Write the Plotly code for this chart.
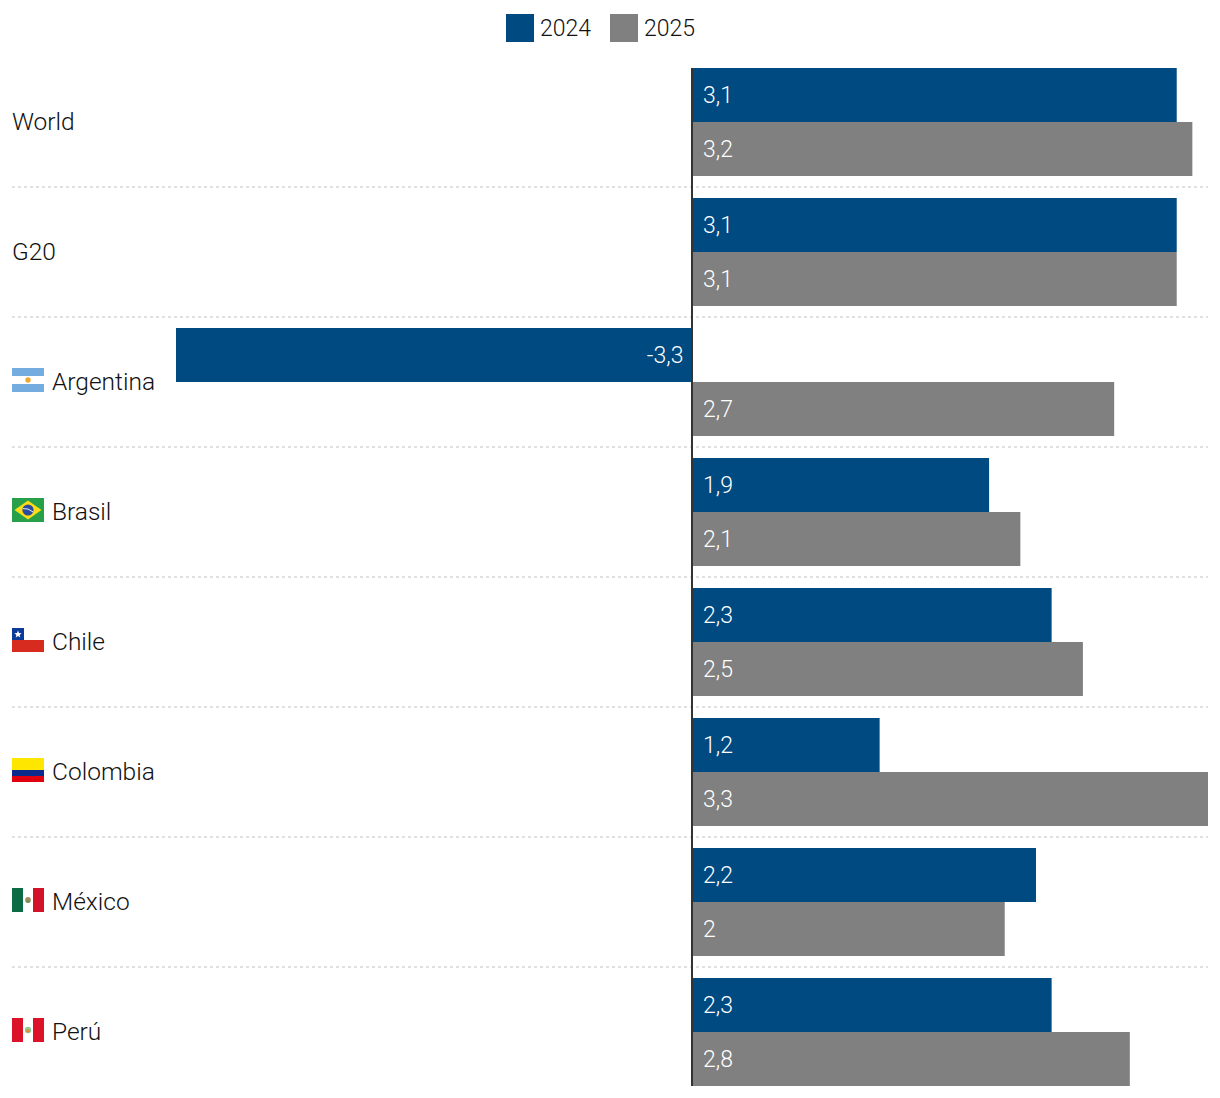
import base64
import plotly.graph_objects as go

categories = ["World", "G20", "Argentina", "Brasil", "Chile", "Colombia", "México", "Perú"]
values_2024 = [3.1, 3.1, -3.3, 1.9, 2.3, 1.2, 2.2, 2.3]
values_2025 = [3.2, 3.1, 2.7, 2.1, 2.5, 3.3, 2.0, 2.8]
series_names = ["2024", "2025"]

BLUE = "#004A82"
GREY = "#808080"
FONT = "Roboto"
BODY = 8  # page margin around the figure
W, H = 1204, 1082
ML, MR, MT, MB = 4, 4, 49, 0
PW, PH = W - ML - MR, H - MT - MB
PX_PER_UNIT = 516 / 3.3
ROW_PX = 130


def px(page_x):
    return (page_x - BODY - ML) / PW


def py(page_y):
    return 1 - (page_y - BODY - MT) / PH


def svg_uri(body):
    svg = f'<svg xmlns="http://www.w3.org/2000/svg" width="32" height="24" viewBox="0 0 32 24">{body}</svg>'
    return "data:image/svg+xml;base64," + base64.b64encode(svg.encode()).decode()


flags = {
    "Argentina": '<rect width="32" height="24" fill="#fff"/><rect width="32" height="8" fill="#74ACDF"/>'
                 '<rect y="16" width="32" height="8" fill="#74ACDF"/><circle cx="16" cy="12" r="2.7" fill="#F0A830"/>',
    "Brasil": '<rect width="32" height="24" fill="#27A049"/><path d="M16 2.5L29.5 12L16 21.5L2.5 12Z" fill="#FBDC17"/>'
              '<circle cx="16" cy="12" r="5.6" fill="#2B4C9E"/><path d="M10.8 10.6Q16 9.8 21.2 14" stroke="#E6EBF5" stroke-width="1" fill="none"/>',
    "Chile": '<rect width="32" height="12" fill="#fff"/><rect y="12" width="32" height="12" fill="#D72B1F"/>'
             '<rect width="12" height="12" fill="#0A3A9A"/><path d="M6 2.6L7 5.1L9.6 5.2L7.6 6.9L8.3 9.4L6 8L3.7 9.4L4.4 6.9L2.4 5.2L5 5.1Z" fill="#fff"/>',
    "Colombia": '<rect width="32" height="12" fill="#FFE600"/><rect y="12" width="32" height="6" fill="#0A2A8C"/>'
                '<rect y="18" width="32" height="6" fill="#E1000F"/>',
    "México": '<rect width="32" height="24" fill="#fff"/><rect width="11" height="24" fill="#0B6B45"/>'
              '<rect x="21" width="11" height="24" fill="#D3122A"/><circle cx="16" cy="12" r="2.9" fill="#A98B62"/>'
              '<circle cx="16" cy="13.4" r="1.5" fill="#5E9A62"/>',
    "Perú": '<rect width="32" height="24" fill="#fff"/><rect width="11" height="24" fill="#DC1228"/>'
            '<rect x="21" width="11" height="24" fill="#DC1228"/><circle cx="16" cy="12" r="3.2" fill="#8CCB9A"/>'
            '<circle cx="16" cy="13" r="1.8" fill="#E08A2C"/>',
}


def fmt(v):
    return f"{v:g}".replace(".", ",")


def bar_text(v):
    # non-breaking space pushes the label off the bar's base
    return f"{fmt(v)}\u00a0" if v < 0 else f"\u00a0\u200a{fmt(v)}"


fig = go.Figure()
for name, vals, color in zip(series_names, [values_2024, values_2025], [BLUE, GREY]):
    fig.add_trace(go.Bar(
        y=categories, x=vals, name=name, orientation="h",
        marker=dict(color=color, line=dict(width=0)),
        text=[bar_text(v) for v in vals],
        textposition="inside", insidetextanchor="start", constraintext="none",
        textangle=0, cliponaxis=False,
        insidetextfont=dict(family=FONT, size=23, color="#FFFFFF", weight=300),
    ))

shapes = []
# dotted separators between categories
for i in range(len(categories) - 1):
    shapes.append(dict(type="line", xref="paper", yref="y", x0=0, x1=1, y0=i + 0.5, y1=i + 0.5,
                       line=dict(color="#D6D6D6", width=1.5, dash="dot"), layer="below"))
# zero axis line, spanning first bar top to last bar bottom
shapes.append(dict(type="line", xref="x", yref="paper", x0=0, x1=0,
                   y0=py(1086), y1=py(68),
                   line=dict(color="#333333", width=2), layer="above"))

annotations = []
images = []
for i, c in enumerate(categories):
    has_flag = c in flags
    annotations.append(dict(
        text=c, xref="paper", yref="y", x=px(50) if has_flag else px(10), y=i,
        xanchor="left", yanchor="middle", showarrow=False, yshift=1,
        font=dict(family=FONT, size=24.5, color="#111111", weight=300),
    ))
    if has_flag:
        images.append(dict(
            source=svg_uri(flags[c]), xref="paper", yref="paper",
            x=px(12), y=py(368 + ROW_PX * (i - 2)),
            sizex=32 / PW, sizey=24 / PH,
            xanchor="left", yanchor="top", sizing="stretch", layer="above",
        ))

# custom legend with large swatches
for name, color, x0 in zip(series_names, [BLUE, GREY], [506, 610]):
    shapes.append(dict(type="rect", xref="paper", yref="paper",
                       x0=px(x0), x1=px(x0 + 28), y0=py(42), y1=py(14),
                       fillcolor=color, line=dict(width=0)))
    annotations.append(dict(
        text=name, xref="paper", yref="paper", x=px(x0 + 32), y=py(28),
        xanchor="left", yanchor="middle", showarrow=False,
        font=dict(family=FONT, size=23, color="#111111", weight=300),
    ))

fig.update_layout(
    width=W, height=H, margin=dict(l=ML, r=MR, t=MT, b=MB, pad=0),
    paper_bgcolor="white", plot_bgcolor="white",
    barmode="group", bargap=22 / ROW_PX, bargroupgap=0, showlegend=False,
    xaxis=dict(range=[-680 / PX_PER_UNIT, 516 / PX_PER_UNIT], visible=False, fixedrange=True),
    yaxis=dict(type="category", categoryorder="array", categoryarray=categories,
               range=[PH / ROW_PX - 0.5, -0.5], visible=False, fixedrange=True),
    shapes=shapes, annotations=annotations, images=images,
)

fig.write_html("out.html")
